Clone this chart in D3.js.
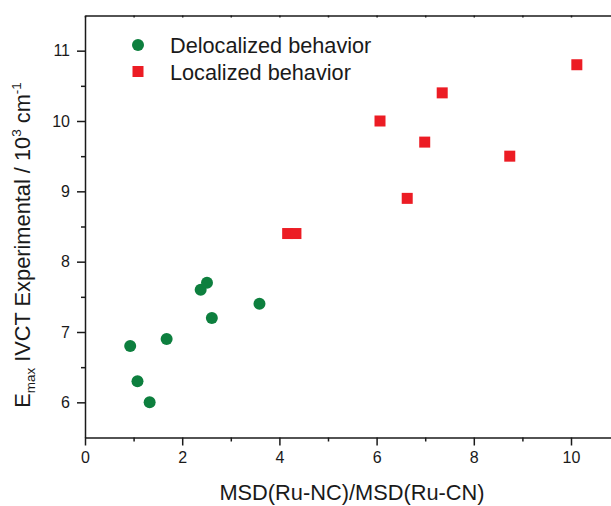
<!DOCTYPE html>
<html>
<head>
<meta charset="utf-8">
<script src="https://cdn.jsdelivr.net/npm/d3@7"></script>
<style>
  body { margin: 0; background: #fff; }
  svg { display: block; font-family: "Liberation Sans", Arial, sans-serif; }
</style>
</head>
<body>
<div id="chart"></div>
<script>
// data
var delocX = [0.93, 1.08, 1.33, 1.68, 2.38, 2.51, 2.61, 3.59];
var delocY = [6.8, 6.3, 6.0, 6.9, 7.6, 7.7, 7.2, 7.4];
var locX = [4.17, 4.34, 6.07, 6.63, 6.99, 7.35, 8.74, 10.12];
var locY = [8.4, 8.4, 10.0, 8.9, 9.7, 10.4, 9.5, 10.8];
var xTicks = [0, 2, 4, 6, 8, 10];
var xMinor = [1, 3, 5, 7, 9];
var yTicks = [6, 7, 8, 9, 10, 11];
var yMinor = [6.5, 7.5, 8.5, 9.5, 10.5];
var seriesNames = ["Delocalized behavior", "Localized behavior"];

var W = 611, H = 506;
var margin = {top: 15.5, left: 85, bottom: 437.5};

var green = "#0d7f3e", red = "#ec1c24";

var svg = d3.select("#chart").append("svg")
  .attr("width", W)
  .attr("height", H);

var x = d3.scaleLinear().domain([0, 11]).range([margin.left, margin.left + 11 * 48.6]);
var y = d3.scaleLinear().domain([5.5, 11.5]).range([margin.bottom, margin.top]);

// bottom axis
svg.append("g")
  .attr("transform", "translate(0," + margin.bottom + ")")
  .call(d3.axisBottom(x).tickValues(xTicks).tickSize(8).tickPadding(6).tickSizeOuter(0).tickFormat(d3.format("d")));
svg.append("g")
  .attr("transform", "translate(0," + margin.bottom + ")")
  .call(d3.axisBottom(x).tickValues(xMinor).tickSize(4).tickFormat("").tickSizeOuter(0))
  .select(".domain").remove();

// left axis
svg.append("g")
  .attr("transform", "translate(" + margin.left + ",0)")
  .call(d3.axisLeft(y).tickValues(yTicks).tickSize(8).tickPadding(7).tickSizeOuter(0).tickFormat(d3.format("d")));
svg.append("g")
  .attr("transform", "translate(" + margin.left + ",0)")
  .call(d3.axisLeft(y).tickValues(yMinor).tickSize(4).tickFormat("").tickSizeOuter(0))
  .select(".domain").remove();

// top frame line
svg.append("g")
  .attr("transform", "translate(0," + margin.top + ")")
  .call(d3.axisTop(x).tickValues(xTicks.concat(xMinor)).tickSize(-2).tickFormat("").tickSizeOuter(0));

svg.selectAll(".domain, .tick line")
  .attr("stroke", "#1a1a1a")
  .attr("stroke-width", 1.5);
svg.selectAll(".tick text")
  .attr("font-size", 16)
  .attr("font-family", "Liberation Sans, Arial, sans-serif")
  .attr("fill", "#1a1a1a");

// points
svg.append("g").selectAll("circle")
  .data(d3.zip(delocX, delocY))
  .enter().append("circle")
    .attr("cx", function(d) { return x(d[0]); })
    .attr("cy", function(d) { return y(d[1]); })
    .attr("r", 6)
    .attr("fill", green);

svg.append("g").selectAll("rect")
  .data(d3.zip(locX, locY))
  .enter().append("rect")
    .attr("x", function(d) { return x(d[0]) - 5.5; })
    .attr("y", function(d) { return y(d[1]) - 5.5; })
    .attr("width", 11)
    .attr("height", 11)
    .attr("fill", red);

// legend
var leg = svg.append("g");
leg.append("circle").attr("cx", 138).attr("cy", 45).attr("r", 6).attr("fill", green);
leg.append("rect").attr("x", 132.5).attr("y", 66).attr("width", 11).attr("height", 11).attr("fill", red);
leg.selectAll("text")
  .data(seriesNames)
  .enter().append("text")
    .attr("x", 170)
    .attr("y", function(d, i) { return 53 + i * 26.5; })
    .attr("font-size", 21.7)
    .attr("fill", "#1a1a1a")
    .text(function(d) { return d; });

// axis titles
svg.append("text")
  .attr("x", 352)
  .attr("y", 500)
  .attr("text-anchor", "middle")
  .attr("font-size", 21.8)
  .attr("fill", "#1a1a1a")
  .text("MSD(Ru-NC)/MSD(Ru-CN)");

var yl = svg.append("text")
  .attr("transform", "translate(29.5,245) rotate(-90)")
  .attr("text-anchor", "middle")
  .attr("font-size", 21.8)
  .attr("fill", "#1a1a1a");
yl.append("tspan").text("E");
yl.append("tspan").attr("font-size", 13.5).attr("dy", 5).text("max");
yl.append("tspan").attr("dy", -5).text(" IVCT Experimental / 10");
yl.append("tspan").attr("font-size", 13.5).attr("dy", -9).text("3");
yl.append("tspan").attr("dy", 9).text(" cm");
yl.append("tspan").attr("font-size", 13.5).attr("dy", -9).text("-1");
</script>
</body>
</html>
